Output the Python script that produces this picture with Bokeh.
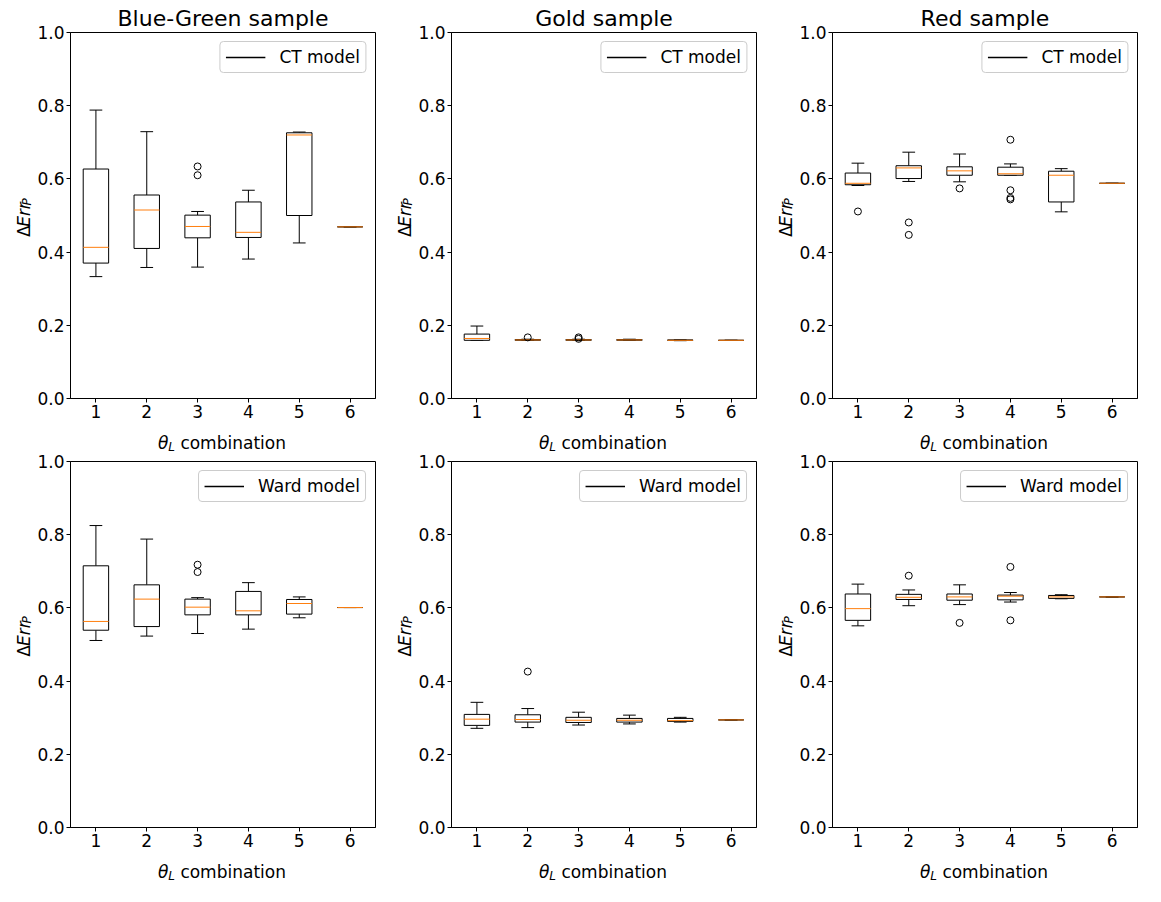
import math
from bokeh.plotting import figure
from bokeh.models import ColumnDataSource, FixedTicker, PrintfTickFormatter, Range1d
from bokeh.layouts import column, row
from bokeh.transform import dodge
from bokeh.core.properties import value
from bokeh.embed import file_html
from bokeh.resources import INLINE

CATS = [1, 2, 3, 4, 5, 6]
X_TICKS = [1, 2, 3, 4, 5, 6]
Y_TICKS = [0.0, 0.2, 0.4, 0.6, 0.8, 1.0]
TITLES = ["Blue-Green sample", "Gold sample", "Red sample"]
MODELS = ["CT model", "Ward model"]

# ---- Blue-Green, CT
BG_CT_LO = [0.333, 0.358, 0.359, 0.381, 0.425, 0.469]
BG_CT_Q1 = [0.370, 0.410, 0.439, 0.440, 0.500, 0.469]
BG_CT_MED = [0.413, 0.515, 0.470, 0.454, 0.720, 0.469]
BG_CT_Q3 = [0.627, 0.556, 0.501, 0.537, 0.726, 0.469]
BG_CT_HI = [0.788, 0.729, 0.511, 0.569, 0.728, 0.469]
BG_CT_OUT_X = [3, 3]
BG_CT_OUT_Y = [0.634, 0.610]

# ---- Gold, CT
GO_CT_LO = [0.159, 0.159, 0.159, 0.159, 0.158, 0.159]
GO_CT_Q1 = [0.159, 0.159, 0.159, 0.159, 0.159, 0.159]
GO_CT_MED = [0.164, 0.160, 0.160, 0.160, 0.159, 0.159]
GO_CT_Q3 = [0.176, 0.161, 0.161, 0.161, 0.160, 0.159]
GO_CT_HI = [0.198, 0.162, 0.162, 0.162, 0.160, 0.159]
GO_CT_OUT_X = [2, 3, 3]
GO_CT_OUT_Y = [0.167, 0.167, 0.163]

# ---- Red, CT
RE_CT_LO = [0.582, 0.593, 0.592, 0.610, 0.510, 0.588]
RE_CT_Q1 = [0.584, 0.601, 0.610, 0.610, 0.537, 0.588]
RE_CT_MED = [0.588, 0.630, 0.622, 0.614, 0.610, 0.588]
RE_CT_Q3 = [0.616, 0.636, 0.633, 0.632, 0.621, 0.588]
RE_CT_HI = [0.643, 0.673, 0.668, 0.641, 0.628, 0.588]
RE_CT_OUT_X = [1, 2, 2, 3, 4, 4, 4, 4]
RE_CT_OUT_Y = [0.511, 0.481, 0.447, 0.574, 0.707, 0.569, 0.548, 0.544]

# ---- Blue-Green, Ward
BG_WA_LO = [0.511, 0.523, 0.530, 0.542, 0.573, 0.601]
BG_WA_Q1 = [0.539, 0.549, 0.581, 0.581, 0.583, 0.601]
BG_WA_MED = [0.563, 0.624, 0.602, 0.592, 0.612, 0.601]
BG_WA_Q3 = [0.715, 0.663, 0.624, 0.645, 0.623, 0.601]
BG_WA_HI = [0.825, 0.788, 0.628, 0.669, 0.630, 0.601]
BG_WA_OUT_X = [3, 3]
BG_WA_OUT_Y = [0.718, 0.698]

# ---- Gold, Ward
GO_WA_LO = [0.271, 0.273, 0.280, 0.283, 0.288, 0.294]
GO_WA_Q1 = [0.279, 0.288, 0.287, 0.288, 0.290, 0.294]
GO_WA_MED = [0.296, 0.295, 0.293, 0.293, 0.292, 0.294]
GO_WA_Q3 = [0.309, 0.308, 0.301, 0.298, 0.298, 0.294]
GO_WA_HI = [0.342, 0.325, 0.315, 0.307, 0.301, 0.294]
GO_WA_OUT_X = [2]
GO_WA_OUT_Y = [0.426]

# ---- Red, Ward
RE_WA_LO = [0.551, 0.606, 0.609, 0.616, 0.625, 0.630]
RE_WA_Q1 = [0.566, 0.623, 0.621, 0.622, 0.626, 0.630]
RE_WA_MED = [0.598, 0.629, 0.630, 0.632, 0.630, 0.630]
RE_WA_Q3 = [0.638, 0.637, 0.638, 0.635, 0.634, 0.630]
RE_WA_HI = [0.665, 0.649, 0.663, 0.642, 0.636, 0.630]
RE_WA_OUT_X = [2, 3, 4, 4]
RE_WA_OUT_Y = [0.688, 0.559, 0.712, 0.566]

PANELS = [
    [(BG_CT_LO, BG_CT_Q1, BG_CT_MED, BG_CT_Q3, BG_CT_HI, BG_CT_OUT_X, BG_CT_OUT_Y),
     (GO_CT_LO, GO_CT_Q1, GO_CT_MED, GO_CT_Q3, GO_CT_HI, GO_CT_OUT_X, GO_CT_OUT_Y),
     (RE_CT_LO, RE_CT_Q1, RE_CT_MED, RE_CT_Q3, RE_CT_HI, RE_CT_OUT_X, RE_CT_OUT_Y)],
    [(BG_WA_LO, BG_WA_Q1, BG_WA_MED, BG_WA_Q3, BG_WA_HI, BG_WA_OUT_X, BG_WA_OUT_Y),
     (GO_WA_LO, GO_WA_Q1, GO_WA_MED, GO_WA_Q3, GO_WA_HI, GO_WA_OUT_X, GO_WA_OUT_Y),
     (RE_WA_LO, RE_WA_Q1, RE_WA_MED, RE_WA_Q3, RE_WA_HI, RE_WA_OUT_X, RE_WA_OUT_Y)],
]

FONT = "DejaVu Sans"
ORANGE = "#ff7f0e"
FRAME_W = 307
FRAME_H = 366
YW = 34          # strip holding the y-axis label
MAIN_L = 34      # left border of the plot (tick labels)
RIGHT = 6
BOTTOM = 26      # bottom border of the plot (tick labels)
XH = 28          # strip holding the x-axis label
MAIN_W = MAIN_L + FRAME_W + RIGHT


def blank_fig(w, h):
    f = figure(width=w, height=h, x_range=Range1d(0, w), y_range=Range1d(0, h),
               output_backend="svg", toolbar_location=None,
               x_axis_type=None, y_axis_type=None)
    f.min_border_left = f.min_border_right = f.min_border_top = f.min_border_bottom = 0
    f.outline_line_color = None
    f.xgrid.visible = False
    f.ygrid.visible = False
    f.background_fill_color = "white"
    f.border_fill_color = "white"
    return f


def text_piece(f, x, y, txt, style, size, angle=0.0):
    f.text(x=[x], y=[y], text=[txt], angle=angle, text_font=value(FONT),
           text_font_style=style, text_font_size=f"{size}px", text_color="black",
           text_align="left", text_baseline="alphabetic")


def ylabel_fig(h, top):
    f = blank_fig(YW, h)
    fs = 17
    pieces = [("Δ", "normal", fs, 0.684 * fs, 0.0),
              ("Err", "italic", fs, 1.454 * fs, 0.0),
              ("P", "italic", 12, 0.603 * 12, 3.0)]
    total = sum(pc[3] for pc in pieces)
    center_y = h - top - FRAME_H / 2
    base_x = YW + MAIN_L - 51 + 6
    pos = center_y - total / 2
    for txt, style, size, w, sub in pieces:
        text_piece(f, base_x + sub, pos, txt, style, size, angle=math.pi / 2)
        pos += w
    return f


def xlabel_fig():
    w = YW + MAIN_W
    f = blank_fig(w, XH)
    fs = 17
    pieces = [("θ", "italic", fs, 0.602 * fs, 0.0),
              ("L", "italic", 12, 0.557 * 12 + 0.318 * fs, -4.0),
              ("combination", "normal", fs, 6.21 * fs, 0.0)]
    total = sum(pc[3] for pc in pieces)
    pos = YW + MAIN_L + FRAME_W / 2 - total / 2
    base_y = XH - 18
    for txt, style, size, pw, sub in pieces:
        text_piece(f, pos, base_y + sub, txt, style, size)
        pos += pw
    return f


def make_panel(data, title, model, top_row):
    lo, q1, med, q3, hi, ox, oy = data
    top = 32 if top_row else 9
    h = top + FRAME_H + BOTTOM
    p = figure(width=MAIN_W, height=h,
               x_range=Range1d(0.5, 6.5), y_range=Range1d(0.0, 1.0),
               output_backend="svg", toolbar_location=None,
               title=title if top_row else None)
    p.min_border_left = MAIN_L
    p.min_border_right = RIGHT
    p.min_border_top = top
    p.min_border_bottom = BOTTOM
    if top_row:
        p.title.text_font = FONT
        p.title.text_font_size = "22px"
        p.title.text_font_style = "normal"
        p.title.align = "center"
        p.title.standoff = 4
        p.title.text_color = "black"

    src = ColumnDataSource(dict(x=CATS, lo=lo, q1=q1, med=med, q3=q3, hi=hi))
    p.segment(x0="x", y0="q3", x1="x", y1="hi", source=src, line_color="black", line_width=1)
    p.segment(x0="x", y0="q1", x1="x", y1="lo", source=src, line_color="black", line_width=1)
    p.segment(x0=dodge("x", -0.125), y0="hi", x1=dodge("x", 0.125), y1="hi", source=src,
              line_color="black", line_width=1)
    p.segment(x0=dodge("x", -0.125), y0="lo", x1=dodge("x", 0.125), y1="lo", source=src,
              line_color="black", line_width=1)
    p.vbar(x="x", width=0.5, bottom="q1", top="q3", source=src,
           fill_color="white", line_color="black", line_width=1)
    p.segment(x0=dodge("x", -0.25), y0="med", x1=dodge("x", 0.25), y1="med", source=src,
              line_color=ORANGE, line_width=1)
    p.scatter(x=ox, y=oy, marker="circle", size=7, fill_color=None, line_color="black",
              line_width=1)
    # legend proxy (nothing drawn in the plot)
    p.line(x=[float("nan")], y=[float("nan")], line_color="black", line_width=1.3,
           legend_label=model)

    p.xgrid.visible = False
    p.ygrid.visible = False
    p.outline_line_color = "black"
    p.outline_line_alpha = 1
    p.outline_line_width = 1
    p.background_fill_color = "white"
    p.border_fill_color = "white"

    for ax in (p.xaxis[0], p.yaxis[0]):
        ax.axis_line_color = "black"
        ax.major_tick_line_color = "black"
        ax.major_tick_out = 4
        ax.major_tick_in = 0
        ax.minor_tick_line_color = None
        ax.major_label_text_font = FONT
        ax.major_label_text_font_size = "17px"
        ax.major_label_text_color = "black"
        ax.major_label_standoff = 2
    p.xaxis[0].ticker = FixedTicker(ticks=X_TICKS)
    p.yaxis[0].ticker = FixedTicker(ticks=Y_TICKS)
    p.yaxis[0].formatter = PrintfTickFormatter(format="%.1f")

    lg = p.legend[0]
    lg.location = "top_right"
    lg.label_text_font = FONT
    lg.label_text_font_size = "17px"
    lg.label_text_color = "black"
    lg.border_line_color = "#cccccc"
    lg.border_line_alpha = 1
    lg.background_fill_alpha = 0.8
    lg.glyph_width = 40
    lg.glyph_height = 20
    lg.label_height = 20
    lg.label_standoff = 14
    lg.padding = 5
    lg.margin = 9
    if "border_radius" in lg.properties():
        lg.border_radius = 4

    cell = column(row(ylabel_fig(h, top), p, spacing=0), xlabel_fig(), spacing=0)
    return cell


rows = []
for r in range(2):
    cells = [make_panel(PANELS[r][c], TITLES[c], MODELS[r], r == 0) for c in range(3)]
    rows.append(row(*cells, spacing=0))
layout = column(*rows, spacing=0)

open("out.html", "w").write(file_html(layout, INLINE))
